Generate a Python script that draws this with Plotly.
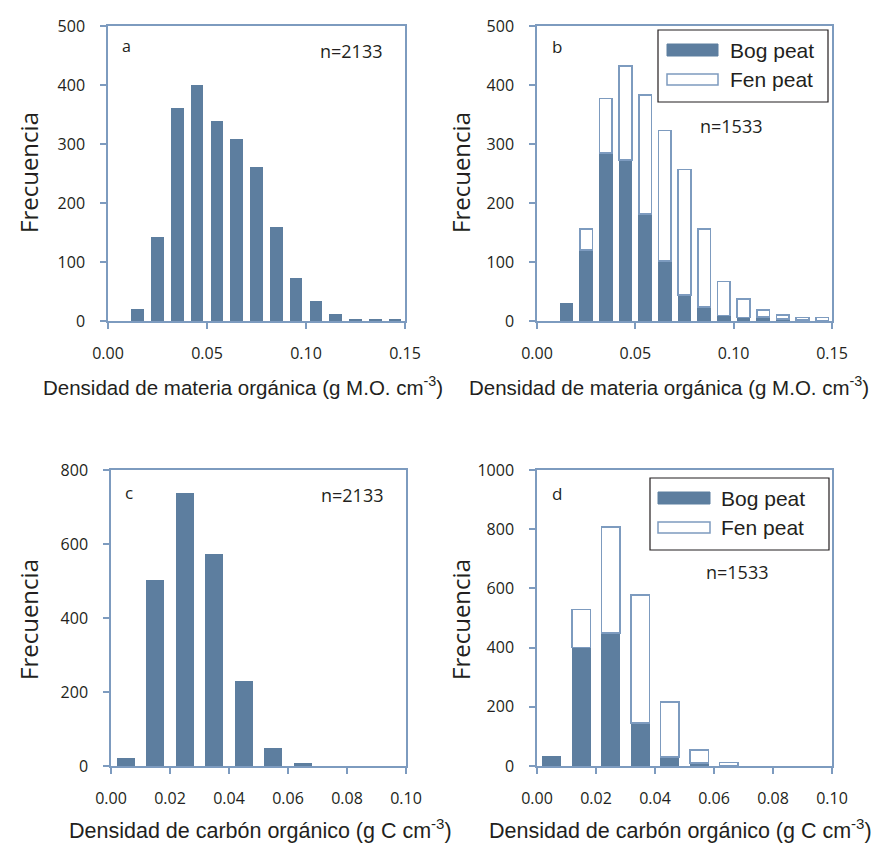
import plotly.graph_objects as go
from plotly.subplots import make_subplots

# organic matter density bins (g M.O. cm-3)
om_bins = [0.015, 0.025, 0.035, 0.045, 0.055, 0.065, 0.075,
           0.085, 0.095, 0.105, 0.115, 0.125, 0.135, 0.145]
om_all = [20, 142, 361, 400, 339, 308, 261, 159, 73, 34, 12, 4, 2, 4]
om_bog = [29, 120, 285, 273, 181, 102, 44, 24, 9, 6, 7, 3, 2, 1]
om_fen = [None, 36, 92, 159, 202, 221, 213, 132, 58, 31, 12, 7, 4, 5]

# organic carbon density bins (g C cm-3)
oc_bins = [0.005, 0.015, 0.025, 0.035, 0.045, 0.055, 0.065]
oc_all = [22, 503, 738, 573, 231, 49, 9]
oc_bog = [31, 401, 449, 145, 31, 10, 2]
oc_fen = [None, 127, 359, 433, 186, 44, 9]

W, H = 877, 843
BLUE = "#5d7e9f"
AXIS = "#7d9bbf"
INK = "#231f20"
TICKFONT = dict(family="Open Sans, Noto Sans, sans-serif", size=16, color=INK)
NARROW = "Liberation Sans, Arial, sans-serif"


def px(x):
    return x / W


def py(y):
    return 1 - y / H


fig = make_subplots(rows=2, cols=2, horizontal_spacing=0.05, vertical_spacing=0.1)

fig.add_trace(go.Bar(x=om_bins, y=om_all, width=0.0064, marker=dict(color=BLUE, line=dict(width=0))), 1, 1)
fig.add_trace(go.Bar(x=om_bins, y=om_bog, width=0.0064, name="Bog peat",
                     marker=dict(color=BLUE, line=dict(color=BLUE, width=1))), 1, 2)
fig.add_trace(go.Bar(x=om_bins, y=om_fen, width=0.0064, name="Fen peat",
                     marker=dict(color="white", line=dict(color=AXIS, width=1.5))), 1, 2)
fig.add_trace(go.Bar(x=oc_bins, y=oc_all, width=0.0062, marker=dict(color=BLUE, line=dict(width=0))), 2, 1)
fig.add_trace(go.Bar(x=oc_bins, y=oc_bog, width=0.0062, name="Bog peat",
                     marker=dict(color=BLUE, line=dict(color=BLUE, width=1))), 2, 2)
fig.add_trace(go.Bar(x=oc_bins, y=oc_fen, width=0.0062, name="Fen peat",
                     marker=dict(color="white", line=dict(color=AXIS, width=1.5))), 2, 2)

axis_common = dict(showline=True, linecolor=AXIS, linewidth=1.5, mirror=True,
                   ticks="outside", tickcolor=AXIS, ticklen=6, tickwidth=1.5,
                   showgrid=False, zeroline=False, tickfont=TICKFONT, automargin=False)

# domains in pixels
doms = {
    "": ((108, 405), (26, 321)),
    "2": ((537, 832), (26, 321)),
    "3": ((111, 406), (470, 766)),
    "4": ((537, 832), (470, 766)),
}
xranges = {"": [0, 0.15], "2": [0, 0.15], "3": [0, 0.10], "4": [0, 0.10]}
xdt = {"": 0.05, "2": 0.05, "3": 0.02, "4": 0.02}
yranges = {"": [0, 500], "2": [0, 500], "3": [0, 800], "4": [0, 1000]}
ydt = {"": 100, "2": 100, "3": 200, "4": 200}

for k, ((x0, x1), (y0, y1)) in doms.items():
    fig.layout["xaxis" + k].update(domain=[px(x0), px(x1)], range=xranges[k], dtick=xdt[k],
                                   tick0=0, tickformat=".2f", ticklabelstandoff=11, **axis_common)
    fig.layout["yaxis" + k].update(domain=[py(y1), py(y0)], range=yranges[k], dtick=ydt[k],
                                   tick0=0, ticklabelstandoff=12, **axis_common)

ann = []


def text(x, y, s, size, family=TICKFONT["family"], xanchor="center", angle=0):
    ann.append(dict(x=px(x), y=py(y), xref="paper", yref="paper", text=s, showarrow=False,
                    xanchor=xanchor, yanchor="middle", textangle=angle,
                    font=dict(family=family, size=size, color=INK)))


# axis titles
om_title = "Densidad de materia orgánica (g M.O. cm<sup>-3</sup>)"
oc_title = "Densidad de carbón orgánico (g C cm<sup>-3</sup>)"
text(243, 386, om_title, 20.5, NARROW)
text(669, 386, om_title, 20.5, NARROW)
text(260, 829, oc_title, 21.5, NARROW)
text(680, 829, oc_title, 21.5, NARROW)
for (x, y) in [(28, 173), (460, 173), (28, 620), (460, 620)]:
    text(x, y, "Frecuencia", 24, angle=-90)

# panel letters and sample sizes
text(120, 46, "a", 16, xanchor="left")
text(550, 46, "b", 17, xanchor="left")
text(123, 492, "c", 17, xanchor="left")
text(550, 493, "d", 17, xanchor="left")
text(351, 51, "n=2133", 18)
text(731, 126, "n=1533", 18)
text(352, 495, "n=2133", 18)
text(737, 572, "n=1533", 18)

# legends drawn as boxes with wide swatches
shapes = []
for (bx0, by0, bx1, by1, sx0, sx1, s1, s2, tx) in [
    (658, 30, 828, 102, 667, 718, (44, 56), (74, 85), 728),
    (650, 478, 829, 550, 658, 710, (492, 504), (522, 533), 719),
]:
    shapes.append(dict(type="rect", xref="paper", yref="paper", x0=px(bx0), x1=px(bx1),
                       y0=py(by1), y1=py(by0), line=dict(color=INK, width=1.2), fillcolor="white"))
    shapes.append(dict(type="rect", xref="paper", yref="paper", x0=px(sx0), x1=px(sx1),
                       y0=py(s1[1]), y1=py(s1[0]), line=dict(color=BLUE, width=1), fillcolor=BLUE))
    shapes.append(dict(type="rect", xref="paper", yref="paper", x0=px(sx0), x1=px(sx1),
                       y0=py(s2[1]), y1=py(s2[0]), line=dict(color=AXIS, width=1.5), fillcolor="white"))
    text(tx, (s1[0] + s1[1]) / 2, "Bog peat", 21, NARROW, xanchor="left")
    text(tx, (s2[0] + s2[1]) / 2, "Fen peat", 21, NARROW, xanchor="left")

fig.update_layout(
    width=W, height=H,
    margin=dict(l=0, r=0, t=0, b=0),
    barmode="stack",
    showlegend=False,
    plot_bgcolor="white",
    paper_bgcolor="white",
    annotations=ann,
    shapes=shapes,
)

# drop the browser's default body margin so the figure sits at the page corner
fig.write_html("out.html", config={"displayModeBar": False},
               post_script="document.body.style.margin='0';")
